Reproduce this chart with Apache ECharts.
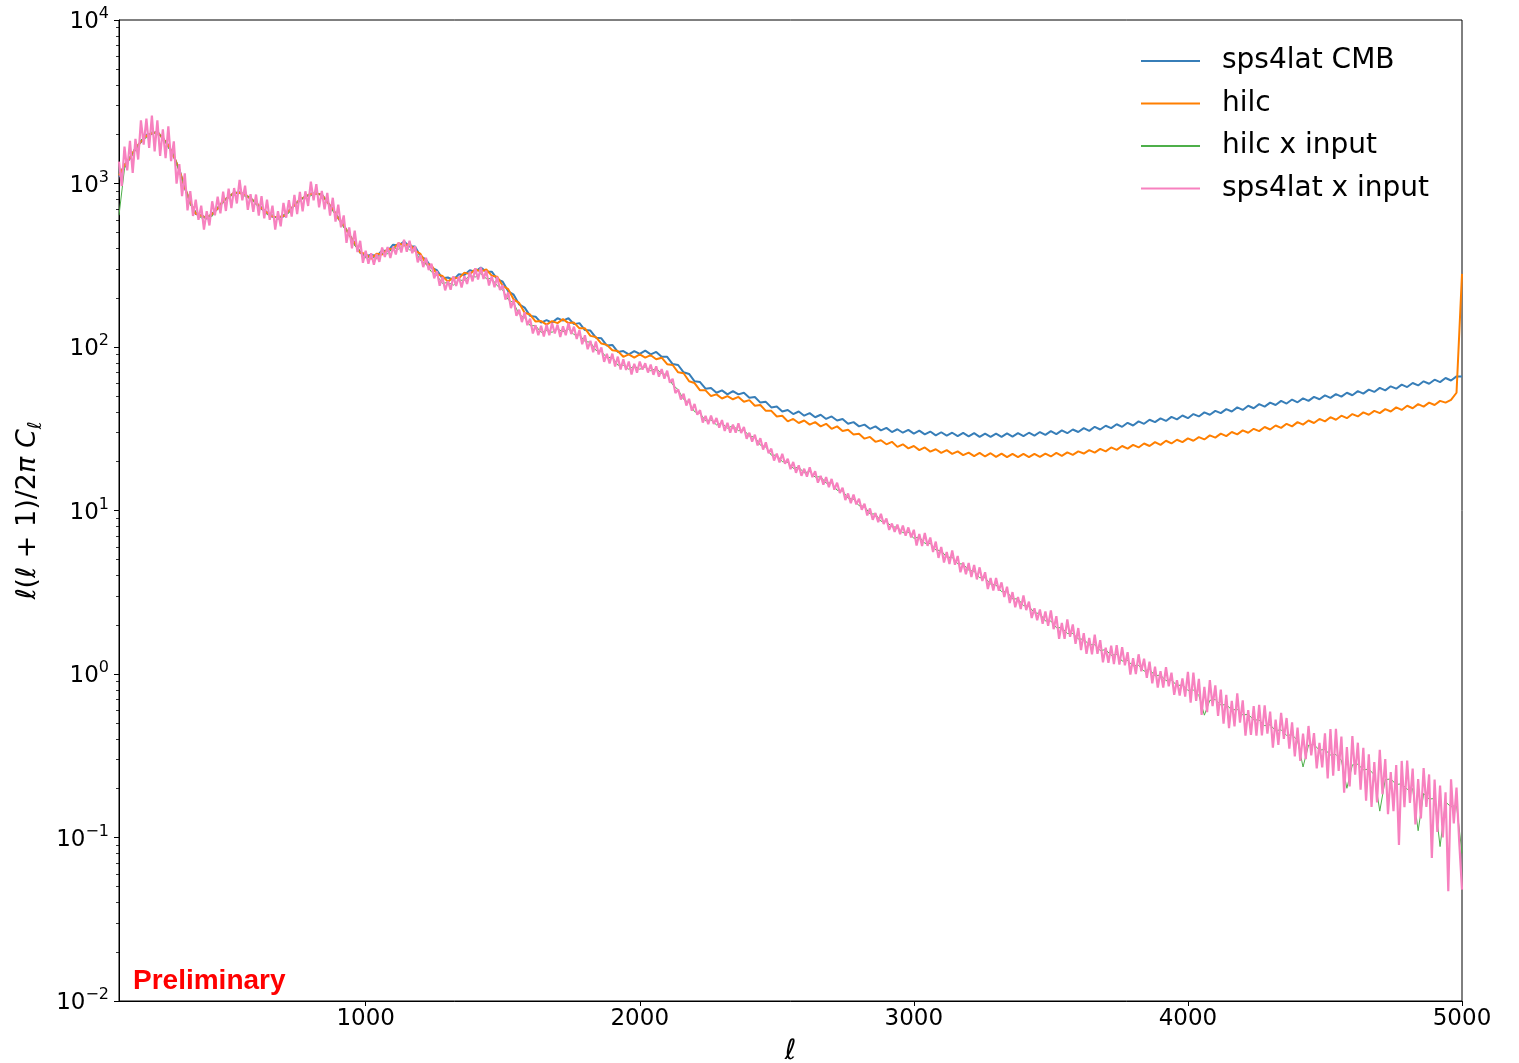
<!DOCTYPE html>
<html>
<head>
<meta charset="utf-8">
<title>sps4lat power spectra</title>
<script src="https://cdn.jsdelivr.net/npm/echarts@6/dist/echarts.min.js"></script>
<style>
  html, body { margin: 0; padding: 0; background: #ffffff; }
  #chart { width: 1519px; height: 1063px; }
</style>
</head>
<body>
<div id="chart"></div>
<script>
// Multipole sampling grids
const ellMin = 100, ellMax = 5000;
const ell20 = [];   // every 20 in ell
for (let l = ellMin; l <= ellMax; l += 20) ell20.push(l);
const ell10 = [];   // every 10 in ell
for (let l = ellMin; l <= ellMax; l += 10) ell10.push(l);

// D_ell = ell(ell+1)/2pi C_ell on the 20-step grid, one row per 200 in ell
const sps4latCMB = [
  1100, 1300, 1420, 1650, 1790, 1990, 2010, 2080, 1880, 1720,
  1460, 1220, 940, 770, 650, 640, 610, 655, 700, 785,
  825, 880, 875, 860, 805, 765, 700, 668, 625, 622,
  628, 683, 735, 800, 826, 868, 866, 858, 770, 698,
  612, 555, 486, 432, 377, 359, 367, 359, 389, 385,
  422, 417, 442, 412, 412, 359, 343, 306, 295, 263,
  266, 257, 279, 276, 295, 289, 306, 289, 289, 260,
  251, 219, 209, 182, 174, 155, 153, 141, 146, 141,
  150, 145, 150, 138, 140, 127, 126, 114, 113, 102,
  103, 93.3, 94.4, 90.2, 94.4, 90.8, 95.0, 90.2, 93.3, 87.1,
  87.1, 78.6, 77.6, 70.0, 68.4, 61.7, 61.0, 55.6, 56.2, 52.5,
  54.3, 51.3, 53.7, 51.3, 52.5, 49.0, 49.5, 45.7, 46.2, 42.7,
  43.2, 40.3, 41.2, 38.9, 40.3, 38.0, 39.4, 37.2, 38.5, 36.3,
  37.6, 35.5, 36.3, 33.9, 34.7, 32.7, 33.5, 31.6, 32.7, 30.9,
  32.0, 30.2, 31.4, 29.9, 31.1, 29.5, 30.8, 29.2, 30.4, 28.8,
  30.1, 28.7, 29.9, 28.5, 29.8, 28.4, 29.7, 28.2, 29.5, 28.2,
  29.5, 28.2, 29.6, 28.3, 29.7, 28.5, 29.9, 28.7, 30.2, 29.0,
  30.6, 29.3, 30.9, 29.7, 31.3, 30.2, 31.9, 30.7, 32.5, 31.3,
  33.0, 31.9, 33.7, 32.5, 34.4, 33.1, 35.1, 33.9, 35.9, 34.7,
  36.6, 35.3, 37.4, 36.1, 38.1, 36.7, 38.9, 37.6, 39.8, 38.5,
  40.7, 39.4, 41.7, 40.3, 42.7, 41.2, 43.7, 42.2, 44.7, 43.2,
  45.7, 44.2, 46.8, 45.1, 47.7, 45.9, 48.5, 46.8, 49.5, 47.9,
  50.6, 48.8, 51.5, 49.7, 52.5, 50.7, 53.7, 51.9, 54.9, 53.1,
  56.2, 54.3, 57.5, 55.6, 58.9, 56.9, 60.2, 58.2, 61.7, 59.6,
  63.1, 61.0, 64.6, 62.4, 66.1, 66
];

const hilc = [
  1120, 1290, 1440, 1630, 1810, 1960, 2030, 2060, 1890, 1710,
  1470, 1210, 950, 765, 655, 635, 615, 650, 705, 780,
  830, 876, 878, 855, 810, 762, 705, 664, 628, 619,
  632, 680, 738, 796, 830, 864, 869, 853, 773, 695,
  615, 552, 488, 429, 378, 371, 347, 372, 368, 398,
  398, 432, 417, 427, 389, 371, 324, 316, 279, 272,
  251, 266, 263, 285, 279, 299, 289, 298, 273, 269,
  237, 226, 195, 186, 162, 158, 143, 144, 137, 144,
  140, 148, 140, 141, 130, 130, 117, 115, 105, 103,
  95.5, 94.4, 87.1, 90.1, 86.1, 90.1, 86.1, 89.1, 84.1, 86.0,
  78.5, 77.6, 70.0, 69.1, 61.7, 60.2, 54.3, 54.3, 50.1, 51.3,
  48.4, 50.1, 47.9, 49.5, 46.2, 47.3, 43.7, 44.2, 40.7, 40.7,
  37.6, 38.0, 35.1, 36.3, 34.3, 35.5, 33.5, 34.7, 32.7, 33.9,
  31.6, 32.7, 30.6, 31.2, 29.2, 29.5, 27.5, 28.2, 26.3, 26.9,
  25.4, 26.3, 24.5, 25.4, 24.0, 24.8, 23.4, 24.3, 22.9, 23.7,
  22.5, 23.4, 22.2, 23.0, 21.8, 22.6, 21.5, 22.5, 21.4, 22.4,
  21.3, 22.3, 21.2, 22.2, 21.2, 22.2, 21.2, 22.2, 21.3, 22.3,
  21.4, 22.5, 21.6, 22.7, 21.9, 23.0, 22.3, 23.4, 22.6, 23.8,
  23.0, 24.3, 23.5, 24.8, 23.9, 25.2, 24.3, 25.7, 24.8, 26.2,
  25.2, 26.7, 25.7, 27.1, 26.2, 27.6, 26.7, 28.1, 27.2, 28.8,
  27.9, 29.5, 28.5, 30.2, 29.2, 30.9, 29.9, 31.6, 30.6, 32.4,
  31.3, 33.1, 32.0, 33.9, 32.7, 34.7, 33.5, 35.5, 34.3, 36.3,
  35.1, 37.2, 35.9, 38.0, 36.7, 38.9, 37.6, 39.8, 38.5, 40.7,
  39.4, 41.7, 40.3, 42.7, 41.2, 43.7, 42.2, 44.7, 43.2, 45.7,
  44.2, 46.8, 45.7, 47.5, 52.5, 280
];

const hilcXInput = [
  640, 1230, 1470, 1580, 1850, 1900, 2080, 1990, 1940, 1650,
  1500, 1170, 970, 740, 675, 615, 630, 630, 722, 757,
  850, 850, 898, 830, 830, 740, 722, 645, 644, 602,
  644, 659, 756, 774, 849, 840, 888, 830, 792, 675,
  629, 536, 500, 416, 388, 350, 358, 346, 374, 371,
  406, 397, 420, 393, 388, 338, 322, 288, 274, 245,
  248, 239, 256, 256, 274, 268, 281, 262, 262, 237,
  223, 195, 186, 158, 151, 135, 135, 123, 126, 123,
  129, 124, 129, 119, 119, 108, 107, 95.3, 94.1, 85.9,
  86.8, 77.4, 77.4, 73.1, 76.5, 73.1, 75.6, 71.5, 73.8, 69.0,
  67.4, 58.8, 54.8, 47.8, 45.6, 40.2, 39.3, 35.4, 35.8, 33.4,
  34.2, 31.9, 33.0, 30.8, 31.1, 28.5, 28.1, 25.1, 24.5, 21.8,
  21.8, 19.9, 19.7, 18.1, 18.4, 17.0, 17.3, 16.0, 16.1, 14.7,
  14.8, 13.3, 13.2, 11.9, 11.7, 10.7, 10.6, 9.53, 9.52, 8.59,
  8.58, 7.93, 7.92, 7.31, 7.38, 6.75, 6.90, 6.30, 6.29, 5.74,
  5.67, 5.18, 5.17, 4.72, 4.71, 4.31, 4.25, 3.88, 3.88, 3.54,
  3.50, 3.19, 3.19, 2.88, 2.88, 2.62, 2.59, 2.37, 2.34, 2.11,
  2.11, 1.92, 1.92, 1.77, 1.77, 1.64, 1.63, 1.51, 1.51, 1.39,
  1.41, 1.30, 1.32, 1.20, 1.21, 1.12, 1.13, 1.04, 1.07, 0.975,
  0.985, 0.910, 0.920, 0.849, 0.858, 0.793, 0.800, 0.740, 0.560, 0.690,
  0.698, 0.645, 0.651, 0.602, 0.608, 0.561, 0.567, 0.524, 0.523, 0.483,
  0.489, 0.450, 0.456, 0.421, 0.425, 0.393, 0.270, 0.367, 0.370, 0.342,
  0.346, 0.319, 0.322, 0.297, 0.200, 0.278, 0.281, 0.259, 0.262, 0.242,
  0.145, 0.226, 0.228, 0.211, 0.213, 0.197, 0.199, 0.110, 0.186, 0.172,
  0.173, 0.088, 0.165, 0.154, 0.158, 0.080
];

// sps4lat x input on the 10-step grid, one row per 100 in ell
const sps4latXInput = [
  1359, 965, 1683, 1201, 1823, 1162, 1875, 1402, 2432, 1727,
  2495, 1652, 2600, 1573, 2430, 1476, 2140, 1427, 2237, 1371,
  1812, 998, 1312, 837, 1153, 685, 897, 633, 796, 599,
  732, 522, 677, 554, 778, 639, 830, 657, 893, 679,
  930, 706, 938, 755, 1052, 789, 970, 690, 860, 670,
  856, 637, 837, 612, 796, 599, 732, 522, 677, 547,
  760, 618, 792, 627, 853, 649, 889, 675, 896, 729,
  1028, 789, 992, 714, 900, 694, 876, 637, 818, 584,
  743, 540, 638, 434, 538, 401, 514, 381, 446, 327,
  388, 323, 374, 318, 370, 332, 406, 355, 409, 350,
  411, 368, 436, 379, 453, 382, 447, 375, 413, 329,
  365, 308, 351, 296, 323, 263, 291, 237, 268, 222,
  253, 224, 271, 236, 270, 231, 272, 243, 288, 252,
  303, 259, 306, 261, 293, 238, 271, 232, 269, 223,
  239, 195, 216, 173, 194, 155, 169, 142, 163, 136,
  149, 121, 136, 118, 135, 116, 137, 118, 140, 121,
  137, 115, 134, 118, 140, 120, 133, 112, 127, 104,
  118, 97.0, 109, 93.0, 108, 90.1, 99.3, 81.2, 90.9, 79.2,
  91.1, 76.0, 87.3, 72.9, 84.2, 72.3, 81.5, 67.9, 79.0, 69.7,
  81.5, 72.7, 79.6, 69.8, 78.0, 67.6, 76.2, 65.9, 73.2, 64.0,
  71.6, 60.5, 63.9, 52.3, 55.1, 47.8, 51.7, 43.9, 48.2, 40.8,
  44.8, 38.5, 41.1, 34.5, 37.9, 33.7, 38.1, 33.8, 36.8, 32.1,
  35.7, 30.7, 34.4, 29.9, 33.5, 29.9, 34.2, 29.8, 32.4, 27.5,
  29.9, 26.4, 29.1, 25.0, 27.7, 23.6, 26.1, 22.4, 23.9, 20.2,
  22.3, 19.7, 22.2, 19.3, 20.7, 17.9, 19.8, 17.0, 18.9, 16.3,
  18.0, 16.1, 18.4, 16.0, 17.4, 14.8, 16.3, 14.4, 16.0, 13.9,
  15.6, 13.4, 14.8, 12.8, 13.8, 11.6, 12.7, 11.1, 12.5, 10.9,
  11.8, 10.1, 11.0, 9.33, 10.3, 8.78, 9.65, 8.48, 9.54, 8.26,
  8.92, 7.61, 8.33, 7.40, 8.20, 7.17, 8.09, 7.01, 7.88, 6.85,
  7.62, 6.10, 7.18, 6.07, 7.29, 6.08, 6.83, 5.57, 6.45, 5.13,
  5.98, 4.81, 5.57, 4.71, 5.69, 4.66, 5.27, 4.19, 4.80, 4.08,
  4.78, 3.92, 4.65, 3.79, 4.49, 3.71, 4.19, 3.31, 3.86, 3.24,
  3.87, 3.23, 3.63, 2.96, 3.42, 2.72, 3.17, 2.56, 2.96, 2.50,
  3.02, 2.46, 2.77, 2.20, 2.52, 2.13, 2.48, 2.03, 2.41, 1.97,
  2.45, 1.88, 2.26, 1.64, 2.05, 1.64, 2.16, 1.69, 2.01, 1.53,
  1.91, 1.40, 1.78, 1.33, 1.66, 1.32, 1.74, 1.33, 1.61, 1.18,
  1.45, 1.17, 1.49, 1.15, 1.50, 1.14, 1.46, 1.13, 1.36, 0.991,
  1.25, 1.00, 1.32, 1.04, 1.24, 0.947, 1.19, 0.876, 1.11, 0.827,
  1.04, 0.827, 1.10, 0.841, 1.02, 0.746, 0.917, 0.739, 0.941, 0.727,
  1.03, 0.668, 1.02, 0.685, 0.933, 0.562, 0.834, 0.585, 0.917, 0.636,
  0.852, 0.554, 0.803, 0.497, 0.746, 0.466, 0.684, 0.478, 0.762, 0.504,
  0.690, 0.420, 0.601, 0.424, 0.636, 0.420, 0.648, 0.421, 0.642, 0.432,
  0.589, 0.354, 0.526, 0.369, 0.579, 0.401, 0.538, 0.349, 0.506, 0.313,
  0.470, 0.294, 0.432, 0.301, 0.481, 0.318, 0.435, 0.265, 0.379, 0.268,
  0.434, 0.230, 0.461, 0.239, 0.462, 0.255, 0.414, 0.188, 0.357, 0.205,
  0.417, 0.242, 0.380, 0.196, 0.354, 0.168, 0.323, 0.154, 0.289, 0.164,
  0.344, 0.184, 0.302, 0.139, 0.251, 0.145, 0.277, 0.090, 0.294, 0.153,
  0.295, 0.163, 0.264, 0.120, 0.228, 0.131, 0.266, 0.154, 0.243, 0.075,
  0.226, 0.108, 0.208, 0.100, 0.189, 0.047, 0.227, 0.122, 0.202, 0.0934,
  0.048
];

const seriesNames = ['sps4lat CMB', 'hilc', 'hilc x input', 'sps4lat x input'];
const seriesColors = ['#377eb8', '#ff7f00', '#4daf4a', '#f781bf'];
const seriesGrids = [ell20, ell20, ell20, ell10];
const seriesValues = [sps4latCMB, hilc, hilcXInput, sps4latXInput];
const seriesWidths = [2, 2, 1.0, 2.2];

// Axis ticks
const xTicks = [1000, 2000, 3000, 4000, 5000];
const yDecades = [0.01, 0.1, 1, 10, 100, 1000, 10000];
const yMinorMantissas = [2, 3, 4, 5, 6, 7, 8, 9];
const yMinorTicks = [];
yDecades.slice(0, -1).forEach(d => yMinorMantissas.forEach(m => yMinorTicks.push(+(d * m).toPrecision(3))));

const FONT = 'DejaVu Sans';

function powerLabel(v) {
  const e = Math.round(Math.log10(v));
  const s = e < 0 ? '\u2212' + (-e) : String(e);
  return '{b|10}{e|' + s + '}';
}

const series = seriesValues.map((vals, k) => ({
  name: seriesNames[k],
  type: 'line',
  data: seriesGrids[k].map((l, i) => [l, vals[i]]),
  showSymbol: false,
  symbol: 'none',
  sampling: false,
  clip: true,
  animation: false,
  lineStyle: { color: seriesColors[k], width: seriesWidths[k] },
  itemStyle: { color: seriesColors[k] },
  emphasis: { disabled: true },
  z: 2 + k
}));

const chart = echarts.init(document.getElementById('chart'), null, { renderer: 'canvas' });
chart.setOption({
  backgroundColor: '#ffffff',
  animation: false,
  grid: {
    left: 119, right: 57, top: 20, bottom: 62,
    outerBoundsMode: 'none', containLabel: false,
    show: true, borderColor: '#000', borderWidth: 1, backgroundColor: 'transparent'
  },
  legend: {
    orient: 'vertical',
    left: 1136, top: 42,
    icon: 'rect',
    itemWidth: 59, itemHeight: 2, itemGap: 14.5,
    textStyle: { fontFamily: FONT, fontSize: 28, color: '#000', lineHeight: 28, padding: [0, 0, 0, 17] },
    data: seriesNames
  },
  xAxis: {
    type: 'value', min: ellMin, max: ellMax,
    axisLine: { show: true, onZero: false, lineStyle: { color: '#000', width: 1 } },
    axisTick: { show: true, customValues: xTicks, length: 5, lineStyle: { color: '#000', width: 1 } },
    axisLabel: {
      customValues: xTicks, formatter: v => String(v),
      fontFamily: FONT, fontSize: 23, color: '#000', margin: 7
    },
    splitLine: { show: false },
    name: '\u2113', nameLocation: 'middle', nameGap: 37,
    nameTextStyle: { fontFamily: FONT, fontStyle: 'italic', fontSize: 28, color: '#000' }
  },
  yAxis: [{
    type: 'log', logBase: 10, min: 0.01, max: 10000,
    axisLine: { show: true, onZero: false, lineStyle: { color: '#000', width: 1 } },
    axisTick: { show: true, customValues: yDecades, length: 5, lineStyle: { color: '#000', width: 1 } },
    axisLabel: {
      customValues: yDecades, margin: 10, formatter: powerLabel,
      rich: {
        b: { fontFamily: FONT, fontSize: 23, color: '#000', lineHeight: 28, verticalAlign: 'bottom' },
        e: { fontFamily: FONT, fontSize: 16, color: '#000', lineHeight: 16, verticalAlign: 'top' }
      }
    },
    splitLine: { show: false },
    name: '{i|\u2113}(\u2113 + 1)/2{i|\u03c0 C}{s|\u2113}',
    nameLocation: 'middle', nameRotate: 90, nameGap: 40,
    nameTextStyle: {
      fontFamily: FONT, fontSize: 27, color: '#000', lineHeight: 34,
      rich: {
        i: { fontFamily: FONT, fontStyle: 'italic', fontSize: 27, color: '#000', lineHeight: 34 },
        s: { fontFamily: FONT, fontStyle: 'italic', fontSize: 19, color: '#000', lineHeight: 34, verticalAlign: 'bottom' }
      }
    }
  }, {
    type: 'log', logBase: 10, min: 0.01, max: 10000, position: 'left',
    axisLine: { show: false },
    axisTick: { show: true, customValues: yMinorTicks, length: 3, lineStyle: { color: '#000', width: 0.8 } },
    axisLabel: { show: false },
    splitLine: { show: false }
  }],
  graphic: [{
    type: 'text',
    left: 133, top: 967,
    style: {
      text: 'Preliminary',
      fill: '#ff0000',
      font: 'bold 28px "Liberation Sans", Arial, sans-serif'
    },
    z: 10
  }],
  series: series
});
</script>
</body>
</html>
